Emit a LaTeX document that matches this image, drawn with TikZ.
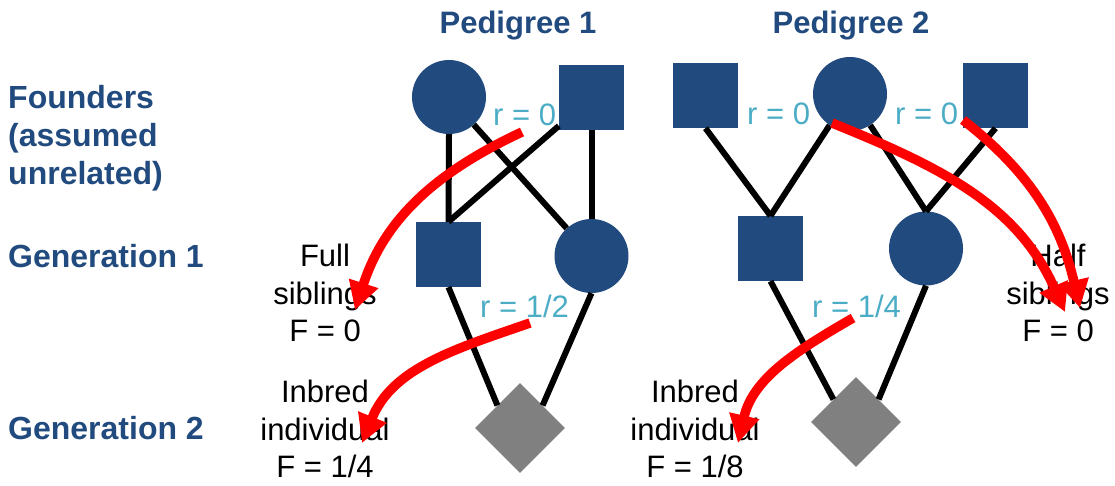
\documentclass[tikz,border=0pt]{standalone}
\usepackage{fontspec}
\setmainfont{Liberation Sans}
\usetikzlibrary{arrows.meta,shapes.geometric,positioning}
\definecolor{pedblue}{HTML}{214A7E}
\definecolor{rteal}{HTML}{4BACC6}
\definecolor{inbgray}{HTML}{808080}

\begin{document}
\begin{tikzpicture}[x=1pt,y=1pt]
\tikzstyle{female}=[circle, fill=pedblue, minimum size=74pt, inner sep=0pt]
\tikzstyle{male}=[rectangle, fill=pedblue, minimum size=65pt, inner sep=0pt]
\tikzstyle{inbred}=[diamond, fill=inbgray, minimum width=90pt, minimum height=90pt, inner sep=0pt]
\tikzstyle{link}=[black, line width=6pt]
\tikzstyle{relarrow}=[red, line width=9.5pt, -{Triangle[length=28pt,width=29pt]}]
\tikzstyle{genlabel}=[font=\fontsize{32}{38}\selectfont\bfseries, text=pedblue, inner sep=0pt, align=left]
\tikzstyle{titlelabel}=[font=\fontsize{31}{37}\selectfont\bfseries, text=pedblue, inner sep=0pt]
\tikzstyle{rlabel}=[font=\fontsize{31}{37.5}\selectfont, text=rteal, inner sep=0pt]
\tikzstyle{flabel}=[font=\fontsize{31}{37.5}\selectfont, align=center, inner sep=0pt]

\useasboundingbox (0,0) rectangle (1115,-485);

% row labels
\node[genlabel, anchor=west] (founders) at (8,-138.7) {Founders\\(assumed\\unrelated)};
\node[genlabel, anchor=base west] (gen1) at (8,-267) {Generation 1};
\node[genlabel, anchor=base west] (gen2) at (8,-439) {Generation 2};

\node[titlelabel, anchor=base] (ped1) at (518,-33) {Pedigree 1};
\node[titlelabel, anchor=base] (ped2) at (851,-33) {Pedigree 2};

% pedigree 1
\node[female] (p1f) at (449,-97) {};
\node[male] (p1m) at (591.5,-97.5) {};
\node[male] (p1son) at (448.5,-254.5) {};
\node[female] (p1dau) at (591.5,-256) {};
\node[inbred] (p1inb) at (520,-428) {};

\draw[link] (p1f.south) -- (p1son.north);
\draw[link] (p1m) -- (p1son.north);
\draw[link] (p1f) -- (p1dau);
\draw[link] (p1m.south) -- (p1dau.north);
\draw[link] (p1son.south) -- (p1inb.north west);
\draw[link] (p1dau.south) -- (p1inb.north east);

% pedigree 2
\node[male] (p2mL) at (705.5,-95.5) {};
\node[female] (p2f) at (850,-94) {};
\node[male] (p2mR) at (995.5,-95.5) {};
\node[male] (p2son) at (770.5,-248.5) {};
\node[female] (p2dau) at (926,-248.5) {};
\node[inbred] (p2inb) at (856,-422) {};

\draw[link] (p2mL.south) -- (p2son.north);
\draw[link] (p2f) -- (p2son.north);
\draw[link] (p2f) -- (p2dau.north);
\draw[link] (p2mR.south) -- (p2dau.north);
\draw[link] (p2son.south) -- (p2inb.north west);
\draw[link] (p2dau.south) -- (p2inb.north east);

% relatedness
\node[rlabel, anchor=base west] (r1) at (493,-125) {r = 0};
\node[rlabel, anchor=base west] (r2) at (480,-317) {r = 1/2};
\node[rlabel, anchor=base west] (r3) at (747,-124) {r = 0};
\node[rlabel, anchor=base west] (r4) at (895,-124) {r = 0};
\node[rlabel, anchor=base west] (r5) at (812,-317) {r = 1/4};

% inbreeding
\node[flabel] (full) at (325,-293.4) {Full\\siblings\\F = 0};
\node[flabel] (half) at (1058,-293.4) {Half\\siblings\\F = 0};
\node[flabel] (inb1) at (325,-429) {Inbred\\individual\\F = 1/4};
\node[flabel] (inb2) at (695,-429) {Inbred\\individual\\F = 1/8};

\coordinate (a1s) at (522,-132);
\coordinate (a1e) at (355,-310);
\coordinate (a2s) at (530,-323);
\coordinate (a2e) at (362,-443);
\coordinate (a3s) at (853,-318);
\coordinate (a3e) at (738,-443);
\coordinate (a4s) at (832,-123);
\coordinate (a4e) at (1065,-312);
\coordinate (a5s) at (963,-120);
\coordinate (a5e) at (1080,-308);

\draw[relarrow] (a1s) to[out=205,in=72] (a1e);
\draw[relarrow] (a2s) to[out=199,in=68] (a2e);
\draw[relarrow] (a3s) to[out=210,in=77] (a3e);
\draw[relarrow] (a4s) to[out=-22,in=114] (a4e);
\draw[relarrow] (a5s) to[out=-38,in=103] (a5e);
\end{tikzpicture}
\end{document}
